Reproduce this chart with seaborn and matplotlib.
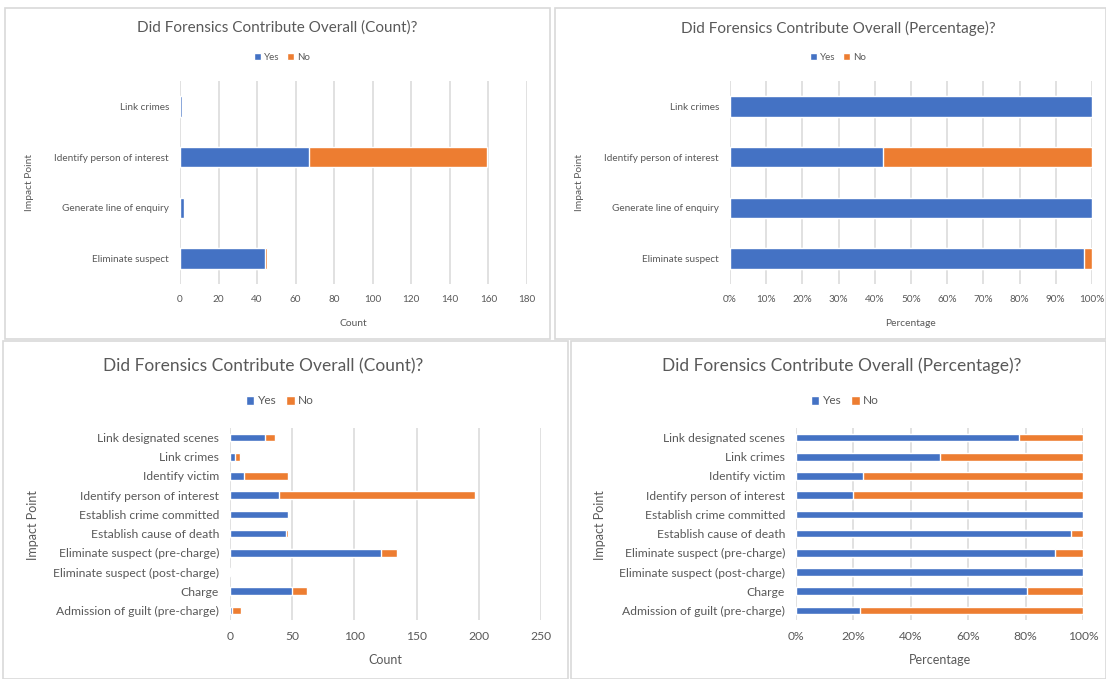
import matplotlib
matplotlib.use("Agg")
import matplotlib.pyplot as plt
from matplotlib.patches import Patch, Rectangle
from matplotlib.ticker import FuncFormatter
import numpy as np
import seaborn as sns

# ---- data ----
small_cats = ["Link crimes", "Identify person of interest",
              "Generate line of enquiry", "Eliminate suspect"]
small_yes = [1, 67, 2, 44]
small_no = [0, 92, 0, 1]

full_cats = ["Link designated scenes", "Link crimes", "Identify victim",
             "Identify person of interest", "Establish crime committed",
             "Establish cause of death", "Eliminate suspect (pre-charge)",
             "Eliminate suspect (post-charge)", "Charge",
             "Admission of guilt (pre-charge)"]
full_yes = [28, 4, 11, 39, 47, 45, 121, 1, 50, 2]
full_no = [8, 4, 36, 158, 0, 2, 13, 0, 12, 7]

count_ticks_small = [0, 20, 40, 60, 80, 100, 120, 140, 160, 180]
count_ticks_full = [0, 50, 100, 150, 200, 250]
pct_ticks_small = [0, 10, 20, 30, 40, 50, 60, 70, 80, 90, 100]
pct_ticks_full = [0, 20, 40, 60, 80, 100]

BLUE = "#4472C4"
ORANGE = "#ED7D31"
TEXT = "#595959"
GRID = "#D9D9D9"

sns.set_theme(style="white")
plt.rcParams["font.family"] = ["Lato", "DejaVu Sans"]

W, H = 1106, 679
fig = plt.figure(figsize=(W / 100, H / 100), dpi=100)
fig.patch.set_facecolor("white")


def fx(px):
    return px / W


def fy(py):
    return 1 - py / H


def panel_box(x0, y0, x1, y1):
    fig.patches.append(Rectangle((fx(x0), fy(y1)), fx(x1) - fx(x0), fy(y0) - fy(y1),
                                 transform=fig.transFigure, fill=False,
                                 edgecolor=GRID, linewidth=1.2))


def chart(box, cats, yes, no, percent, ticks, xlabel, title, title_xy,
          legend_xy, ylab_xy, xlab_y, fs):
    left, top, right, bottom = box
    ax = fig.add_axes([fx(left), fy(bottom), fx(right) - fx(left), fy(top) - fy(bottom)])
    yes = np.array(yes, dtype=float)
    no = np.array(no, dtype=float)
    total = yes + no
    if percent:
        yes_v = yes / total * 100
        tot_v = total / total * 100
    else:
        yes_v = yes
        tot_v = total
    sns.barplot(x=tot_v, y=cats, color=ORANGE, saturation=1, width=0.4,
                ax=ax, orient="h", zorder=3)
    sns.barplot(x=yes_v, y=cats, color=BLUE, saturation=1, width=0.4,
                ax=ax, orient="h", zorder=4)
    ax.set_xlim(ticks[0], ticks[-1])
    ax.set_ylim(len(cats) - 0.5, -0.5)
    ax.set_xticks(ticks)
    if percent:
        ax.xaxis.set_major_formatter(FuncFormatter(lambda v, p: f"{v:.0f}%"))
    ax.grid(axis="x", color=GRID, linewidth=1.1, zorder=0)
    ax.grid(axis="y", visible=False)
    for s in ax.spines.values():
        s.set_visible(False)
    ax.tick_params(axis="both", length=0, colors=TEXT, labelsize=fs["tick"])
    ax.tick_params(axis="y", pad=8)
    ax.tick_params(axis="x", pad=8)
    ax.set_xlabel("")
    ax.set_ylabel("")
    fig.text(fx(title_xy[0]), fy(title_xy[1]), title, ha="center", va="center",
             fontsize=fs["title"], color=TEXT)
    fig.text(fx((left + right) / 2), fy(xlab_y), xlabel, ha="center", va="center",
             fontsize=fs["label"], color=TEXT)
    fig.text(fx(ylab_xy[0]), fy(ylab_xy[1]), "Impact Point", ha="center", va="center",
             rotation=90, fontsize=fs["label"], color=TEXT)
    handles = [Patch(facecolor=BLUE, label="Yes"), Patch(facecolor=ORANGE, label="No")]
    leg = fig.legend(handles=handles, loc="center",
                     bbox_to_anchor=(fx(legend_xy[0]), fy(legend_xy[1])),
                     ncol=2, frameon=False, fontsize=fs["legend"],
                     handlelength=0.7, handleheight=0.7, handletextpad=0.3,
                     columnspacing=0.8)
    for t in leg.get_texts():
        t.set_color(TEXT)
    return ax


top_fs = {"title": 11.0, "tick": 7.2, "label": 7.4, "legend": 7.0}
bot_fs = {"title": 12.5, "tick": 8.7, "label": 9.0, "legend": 8.6}

panel_box(5, 8, 550, 339)
panel_box(555, 8, 1106, 339)
panel_box(3, 341, 568, 679)
panel_box(571, 341, 1106, 679)

chart((180, 81, 527, 284), small_cats, small_yes, small_no, False,
      count_ticks_small, "Count", "Did Forensics Contribute Overall (Count)?",
      (277, 28), (282, 57), (30, 183), 323, top_fs)

chart((730, 81, 1092, 284), small_cats, small_yes, small_no, True,
      pct_ticks_small, "Percentage", "Did Forensics Contribute Overall (Percentage)?",
      (838, 28), (838, 57), (580, 183), 323, top_fs)

chart((230, 428, 541, 620), full_cats, full_yes, full_no, False,
      count_ticks_full, "Count", "Did Forensics Contribute Overall (Count)?",
      (263, 366), (280, 401), (33, 525), 660, bot_fs)

chart((796, 428, 1083, 620), full_cats, full_yes, full_no, True,
      pct_ticks_full, "Percentage", "Did Forensics Contribute Overall (Percentage)?",
      (842, 366), (845, 401), (600, 525), 660, bot_fs)

fig.savefig("out.png", dpi=100, facecolor="white")
